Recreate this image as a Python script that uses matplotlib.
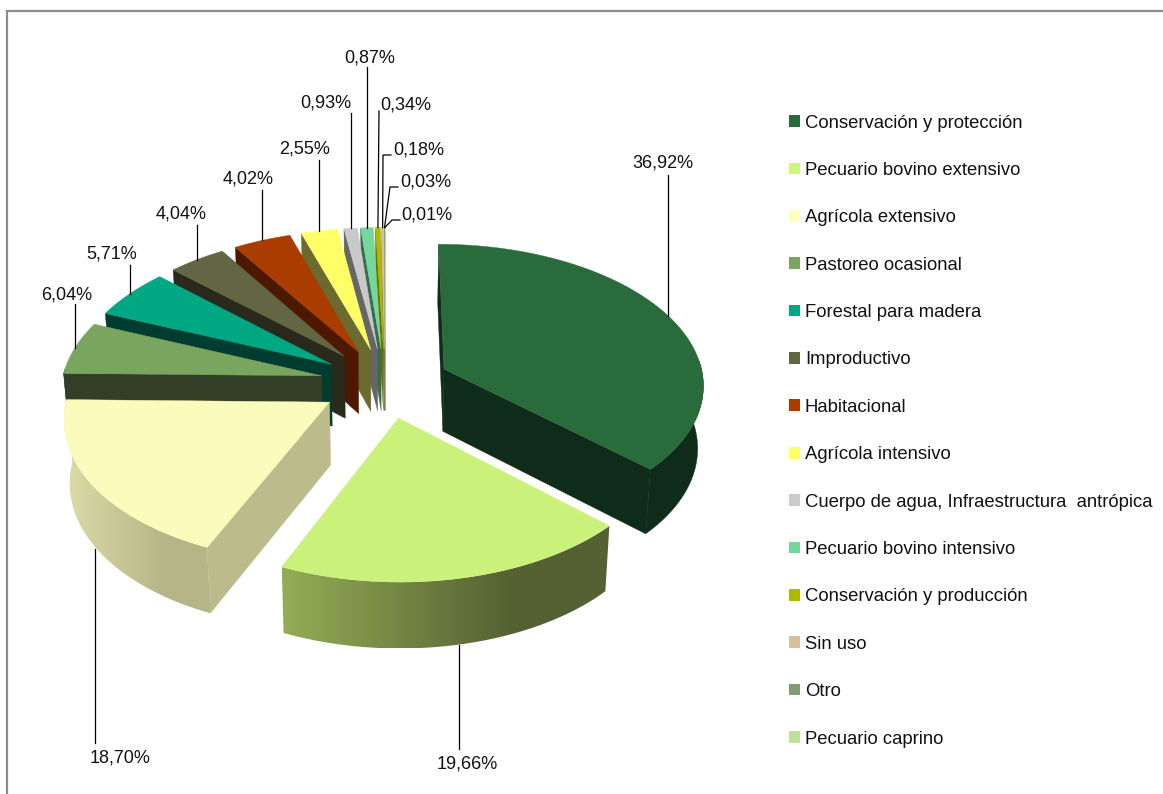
import numpy as np
from matplotlib import pyplot as plt
from matplotlib.colors import LinearSegmentedColormap
from matplotlib.patches import Patch, Polygon

plt.rcParams['font.family'] = ['Liberation Sans', 'DejaVu Sans']

categories = ['Conservación y protección', 'Pecuario bovino extensivo', 'Agrícola extensivo',
              'Pastoreo ocasional', 'Forestal para madera', 'Improductivo', 'Habitacional',
              'Agrícola intensivo', 'Cuerpo de agua, Infraestructura  antrópica',
              'Pecuario bovino intensivo', 'Conservación y producción', 'Sin uso', 'Otro',
              'Pecuario caprino']
values = [36.92, 19.66, 18.70, 6.04, 5.71, 4.04, 4.02, 2.55, 0.93, 0.87, 0.34, 0.18, 0.03, 0.01]
value_labels = ['36,92%', '19,66%', '18,70%', '6,04%', '5,71%', '4,04%', '4,02%', '2,55%',
                '0,93%', '0,87%', '0,34%', '0,18%', '0,03%', '0,01%']

top_colors = ['#2a6b3c', '#caf27a', '#fbfbbb', '#7aa55f', '#00a783', '#626644', '#aa3c00',
              '#ffff66', '#c9c9c9', '#76d79c', '#adb900', '#d8c09a', '#829c74', '#bce29a']
legend_colors = ['#2a6b3c', '#ccf77a', '#ffffc0', '#7aa55f', '#00a783', '#626644', '#aa3c00',
                 '#ffff66', '#cccccc', '#76d79c', '#adb900', '#d8c09a', '#829c74', '#bce29a']
wall_colors = ['#0f2c1a', '#556133', '#bbbb8c', '#323f26', '#003d30', '#2a2a1c', '#4d1800',
               '#6b6b30', '#666666', '#3a6b4e', '#6b7000', '#8a7a60', '#59694f', '#7a9460']
# rim gradients, left to right
rim_left = {1: '#94ad55', 2: '#dcdca8'}
rim_right = {1: '#556133', 2: '#b5b587'}

# label centre (pixels) and where the leader stops
label_xy = [(663, 163), (467, 764), (120, 758), (67, 295), (112, 254), (181, 214), (248, 179),
            (305, 149), (326, 103), (370, 58), (406, 105), (419, 150), (426, 182), (427, 215)]
leader_end = [(None, 175), (None, 749), (None, 743), (None, 304), (None, 265), (None, 225),
              (None, 190), (None, 160), (None, 113), (None, 67), (379, 111), (391, 155),
              (398, 187), (400, 220)]
leader_elbow = {11: (383, 155), 12: (390, 187), 13: (392, 220)}
leader_dx = [-1, 0, -2, 0, 0, 0, 0, 0, 0, 0, 0, 0, 0, 0]

# pie geometry
cx, cy = 385, 383
rx, ry = 260, 140
persp = 0.10
explode = 0.25
bottom_scale = 0.982


def project(wx, wy):
    d = 1 - persp * wy
    return cx + rx * wx / d, cy + ry * wy / d


def to_bottom(px, py, wy):
    depth = 62.5 + 6 * wy
    return cx + (px - cx) * bottom_scale, cy + (py - cy) * bottom_scale + depth


def slice_points(t0, t1, mid):
    t = np.linspace(t0, t1, max(3, int((t1 - t0) * 2)))
    rad = np.radians(t)
    ox, oy = explode * np.sin(np.radians(mid)), -explode * np.cos(np.radians(mid))
    wx = ox + np.sin(rad)
    wy = oy - np.cos(rad)
    return t, wx, wy, ox, oy


def facing(poly):
    x, y = poly[:, 0], poly[:, 1]
    return 0.5 * np.sum(x * np.roll(y, -1) - np.roll(x, -1) * y)


fig = plt.figure(figsize=(11.63, 7.94), dpi=100)
ax = fig.add_axes([0, 0, 1, 1])
ax.axis('off')

ends = np.cumsum(values) / sum(values) * 360
starts = np.concatenate([[0], ends[:-1]])
mids = (starts + ends) / 2

# frame of the chart area
ax.plot([7, 7, 1163], [794, 11, 11], color='#8c8c8c', lw=1.6, solid_joinstyle='miter')

order = list(np.argsort(-np.cos(np.radians(mids))))
anchors = {}
for i in order:
    t, wx, wy, ox, oy = slice_points(starts[i], ends[i], mids[i])
    px, py = project(wx, wy)
    ax_, ay_ = project(ox, oy)
    bx, by = to_bottom(px, py, wy)
    abx, aby = to_bottom(ax_, ay_, oy)

    top = np.column_stack([np.r_[ax_, px], np.r_[ay_, py]])
    wall_a = np.array([[ax_, ay_], [px[0], py[0]], [bx[0], by[0]], [abx, aby]])
    wall_b = np.array([[ax_, ay_], [px[-1], py[-1]], [bx[-1], by[-1]], [abx, aby]])

    # y grows downwards here, so the signs read the other way round
    show_a = facing(wall_a) < 0
    show_b = facing(wall_b) > 0

    z = 2 + order.index(i)

    # outer rim, only the part that looks at the viewer
    front = np.cos(np.radians(t)) < 0.06
    if front.sum() >= 2:
        rim = np.vstack([np.column_stack([px[front], py[front]]),
                         np.column_stack([bx[front], by[front]])[::-1]])
        if i in rim_left:
            cmap = LinearSegmentedColormap.from_list('rim', [(0, rim_left[i]), (0.7, rim_right[i]),
                                                             (1, rim_right[i])])
            im = ax.imshow(np.linspace(0, 1, 200).reshape(1, -1), cmap=cmap, aspect='auto',
                           extent=(rim[:, 0].min(), rim[:, 0].max(), rim[:, 1].max(), rim[:, 1].min()),
                           zorder=z, interpolation='bilinear')
            clip = Polygon(rim, closed=True, transform=ax.transData, fc='none', ec='none')
            ax.add_patch(clip)
            im.set_clip_path(clip)
        else:
            ax.add_patch(Polygon(rim, closed=True, fc=wall_colors[i], ec=wall_colors[i], lw=0.3, zorder=z))

    if show_a:
        ax.add_patch(Polygon(wall_a, closed=True, fc=wall_colors[i], ec=wall_colors[i], lw=0.3, zorder=z + 0.1))
    if show_b:
        ax.add_patch(Polygon(wall_b, closed=True, fc=wall_colors[i], ec=wall_colors[i], lw=0.3, zorder=z + 0.1))
    ax.add_patch(Polygon(top, closed=True, fc=top_colors[i], ec=top_colors[i], lw=0.3, zorder=z + 0.2))

    # leader anchor: middle of the rim, on the bottom edge for the front slices
    wm = np.radians(mids[i])
    wxm = ox + np.sin(wm)
    wym = oy - np.cos(wm)
    mx, my = project(wxm, wym)
    if np.cos(wm) < 0:
        mx, my = to_bottom(mx, my, wym)
    anchors[i] = (mx + leader_dx[i], my)

# leaders and value labels
for i, lab in enumerate(value_labels):
    mx, my = anchors[i]
    ex, ey = leader_end[i]
    if ex is None:
        ex = mx
    xs, ys = [mx], [my]
    if i in leader_elbow:
        xs.append(leader_elbow[i][0])
        ys.append(leader_elbow[i][1])
    xs.append(ex)
    ys.append(ey)
    ax.plot(xs, ys, color='black', lw=0.9, zorder=40)
    ax.text(label_xy[i][0], label_xy[i][1], lab, fontsize=13, ha='center', va='center',
            color='#111111', zorder=41)

handles = [Patch(fc=c, ec='none') for c in legend_colors]
ax.legend(handles, categories, loc='upper left', bbox_to_anchor=(789 / 1163, 1 - 114.5 / 794),
          bbox_transform=fig.transFigure, frameon=False, fontsize=13.3, ncol=1,
          handlelength=0.6, handleheight=0.6, handletextpad=0.26, labelspacing=1.645,
          borderpad=0, borderaxespad=0, labelcolor='#111111')

ax.set_xlim(0, 1163)
ax.set_ylim(794, 0)
plt.savefig('out.png', dpi=100)
